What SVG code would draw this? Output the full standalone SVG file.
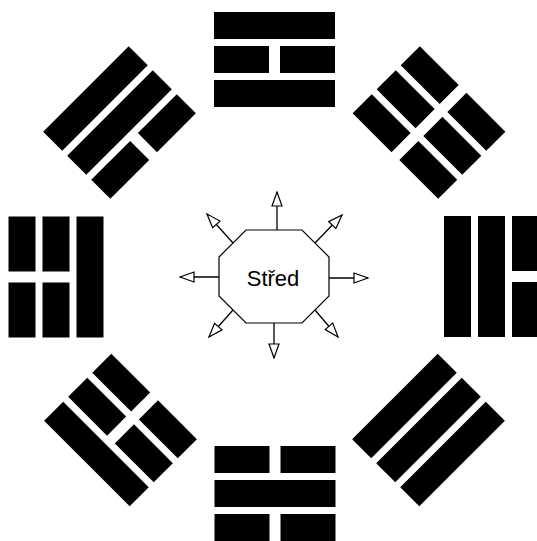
<svg xmlns="http://www.w3.org/2000/svg" width="537" height="541" viewBox="0 0 537 541">
<style>
.bar{fill:#000}
.edge{stroke:#000;stroke-width:1.3;fill:none}
.oct{fill:#fff;stroke:#000;stroke-width:1.2}
.lbl{font-family:"Liberation Sans","DejaVu Sans",sans-serif;font-size:22px;fill:#000}
</style>
<defs>
<marker id="ah" markerUnits="userSpaceOnUse" markerWidth="16" markerHeight="12" refX="14" refY="5" orient="auto" viewBox="-1 -1 16 12">
<path d="M0,0 L14,5 L0,10 Z" fill="#fff" stroke="#000" stroke-width="1.2"/>
</marker>
<g id="full"><rect class="bar" x="-60.5" y="0" width="121" height="27"/></g>
<g id="brok"><rect class="bar" x="-60.5" y="0" width="55" height="27"/><rect class="bar" x="5.5" y="0" width="55" height="27"/></g>
</defs>
<g id="connectors">
<line class="edge" x1="277" y1="230" x2="277" y2="192" marker-end="url(#ah)"/>
<line class="edge" x1="315" y1="243" x2="342" y2="215" marker-end="url(#ah)"/>
<line class="edge" x1="233" y1="243" x2="207" y2="214" marker-end="url(#ah)"/>
<line class="edge" x1="219" y1="277" x2="180" y2="277" marker-end="url(#ah)"/>
<line class="edge" x1="329" y1="278" x2="368" y2="278" marker-end="url(#ah)"/>
<line class="edge" x1="233" y1="310" x2="209" y2="337" marker-end="url(#ah)"/>
<line class="edge" x1="315" y1="310" x2="338" y2="337" marker-end="url(#ah)"/>
<line class="edge" x1="274" y1="323" x2="274" y2="358" marker-end="url(#ah)"/>
</g>
<g id="center">
<polygon class="oct" points="246,230 302,230 329,257 329,296 302,323 246,323 219,296 219,257"/>
<text class="lbl" x="273" y="286" text-anchor="middle">Střed</text>
</g>
<g id="tri-top" transform="translate(274.5,59.5)">
<use href="#full" y="-47.5"/><use href="#brok" y="-13.5"/><use href="#full" y="20.5"/>
</g>
<g id="tri-topright" transform="translate(429,122.5) rotate(45)">
<use href="#brok" y="-47.5"/><use href="#brok" y="-13.5"/><use href="#brok" y="20.5"/>
</g>
<g id="tri-right" transform="translate(491.5,276.5) rotate(90)">
<use href="#brok" y="-47.5"/><use href="#full" y="-13.5"/><use href="#full" y="20.5"/>
</g>
<g id="tri-bottomright" transform="translate(428.5,430) rotate(135)">
<use href="#full" y="-47.5"/><use href="#full" y="-13.5"/><use href="#full" y="20.5"/>
</g>
<g id="tri-bottom" transform="translate(275,493.5) rotate(180)">
<use href="#brok" y="-47.5"/><use href="#full" y="-13.5"/><use href="#brok" y="20.5"/>
</g>
<g id="tri-bottomleft" transform="translate(120.5,430) rotate(-135)">
<use href="#full" y="-47.5"/><use href="#brok" y="-13.5"/><use href="#brok" y="20.5"/>
</g>
<g id="tri-left" transform="translate(56,277) rotate(-90)">
<use href="#brok" y="-47.5"/><use href="#brok" y="-13.5"/><use href="#full" y="20.5"/>
</g>
<g id="tri-topleft" transform="translate(119.5,122.5) rotate(-45)">
<use href="#full" y="-47.5"/><use href="#full" y="-13.5"/><use href="#brok" y="20.5"/>
</g>
</svg>
